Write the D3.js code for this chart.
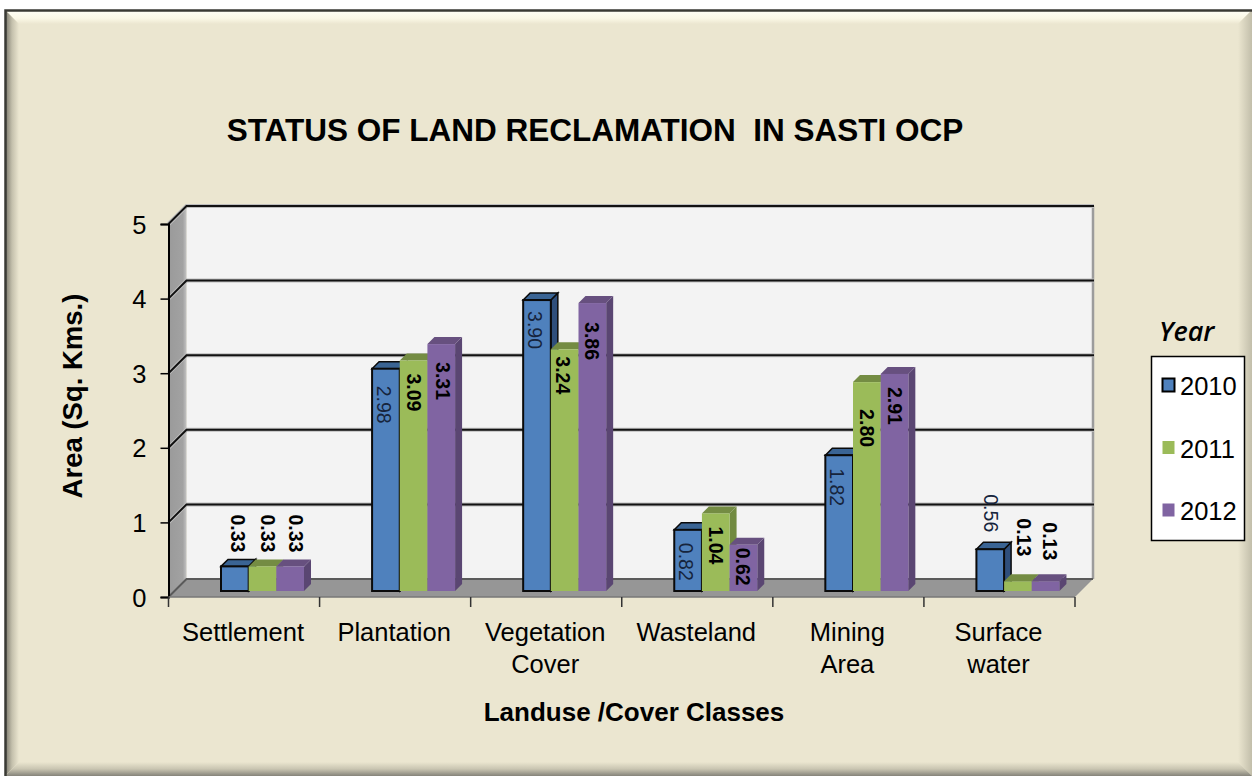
<!DOCTYPE html>
<html lang="en">
<head>
  <meta charset="UTF-8">
  <title>Status of Land Reclamation in Sasti OCP</title>
  <style>
      body { margin: 0; background: #fff; }
      svg { display: block; }
      text { font-family: "Liberation Sans", Arial, sans-serif; fill: #000; }
      .title { font-size: 31.5px; font-weight: bold; white-space: pre; }
      .axis-title { font-size: 26px; font-weight: bold; }
      .axis-title.vertical { font-size: 27.5px; }
      .tick-label { font-size: 25.5px; }
      .legend-label { font-size: 25.5px; }
      .legend-title { font-family: "Open Sans", sans-serif; font-size: 27px; font-style: italic; font-weight: 600; }
      .val { font-size: 19.5px; }
  </style>
</head>
<body>
<div id="chart"></div>
<script src="https://d3js.org/d3.v7.min.js"></script>
<script>
  const categories = ['Settlement', 'Plantation', 'Vegetation Cover', 'Wasteland', 'Mining Area', 'Surface water'];
  const years = ['2010', '2011', '2012'];
  const values2010 = [0.33, 2.98, 3.90, 0.82, 1.82, 0.56];
  const values2011 = [0.33, 3.09, 3.24, 1.04, 2.80, 0.13];
  const values2012 = [0.33, 3.31, 3.86, 0.62, 2.91, 0.13];
  const yTicks = [0, 1, 2, 3, 4, 5];

  const seriesValues = [values2010, values2011, values2012];
  const colors = [
    {front: '#4f81bd', top: '#3a6494', side: '#2f4f7c'},
    {front: '#9bbb59', top: '#748c43', side: '#718a40'},
    {front: '#8064a2', top: '#67507f', side: '#5a4672'}
  ];

  const W = 1252, H = 776;
  const left = 168.5, right = 1075, depth = 18, barDepth = 7, barLift = 6;
  // small hand nudges so the rotated labels sit where they do in the original
  const labelNudge = [
    [2, 4, -2, 0, 0, -1],
    [2, 0, -6, 0, 14, -9],
    [2, 5, 6, -10, 0, -5]
  ];
  const labelShiftX = [
    [0, -2, -2, -2, -2, -2],
    [2, 0, -2, 0, 0, 3],
    [3, 2, 0, 0, 0, 1]
  ];

  const svg = d3.select('#chart').append('svg').attr('width', W).attr('height', H);
  const defs = svg.append('defs');

  function gradient(id, x2, y2, stops) {
    const g = defs.append('linearGradient').attr('id', id)
      .attr('x1', 0).attr('y1', 0).attr('x2', x2).attr('y2', y2);
    stops.forEach(s => g.append('stop').attr('offset', s[0]).attr('stop-color', s[1]));
  }
  gradient('bevel-top', 0, 1, [[0, '#fffff6'], [0.6, '#fbf8e6'], [1, '#ebe6d0']]);
  gradient('bevel-left', 1, 0, [[0, '#77756a'], [0.5, '#c4c0ac'], [1, '#ebe6d0']]);
  gradient('bevel-right', 1, 0, [[0, '#ebe6d0'], [1, '#c2beaa']]);
  gradient('bevel-bottom', 0, 1, [[0, '#ebe6d0'], [0.5, '#c9c5b1'], [1, '#85837a']]);
  gradient('side-wall', 1, 0, [[0, '#9a9a9a'], [0.8, '#a2a2a2'], [1, '#c4c4c4']]);

  // card with bevelled edges
  const fx0 = 5, fy0 = 10, bw = 14;
  svg.append('rect').attr('x', fx0).attr('y', fy0).attr('width', W - fx0).attr('height', H - fy0).attr('fill', '#ebe6d0');
  const bevel = [
    ['bevel-top', [[fx0, fy0], [W, fy0], [W - bw, fy0 + bw], [fx0 + bw, fy0 + bw]]],
    ['bevel-left', [[fx0, fy0], [fx0 + bw, fy0 + bw], [fx0 + bw, H - bw], [fx0, H]]],
    ['bevel-right', [[W, fy0], [W, H], [W - bw, H - bw], [W - bw, fy0 + bw]]],
    ['bevel-bottom', [[fx0, H], [fx0 + bw, H - bw], [W - bw, H - bw], [W, H]]]
  ];
  svg.selectAll('.bevel').data(bevel).enter().append('polygon')
    .attr('class', 'bevel')
    .attr('points', d => d[1].join(' '))
    .attr('fill', d => `url(#${d[0]})`);
  svg.append('path').attr('d', `M${fx0 + 0.5},${H}V${fy0 + 0.5}H${W}`)
    .attr('fill', 'none').attr('stroke', '#3a3a34').attr('stroke-width', 2.5);

  const y = d3.scaleLinear().domain([0, 5]).range([597, 224]);
  const x0 = d3.scaleBand().domain(categories).range([left, right]);
  const x1 = d3.scaleBand().domain(years).range([0, 83]);
  const barStart = 52.5;

  // walls and floor
  const y0 = y(0), y5 = y(5);
  svg.append('rect').attr('x', left + depth).attr('y', y5 - depth)
    .attr('width', right - left).attr('height', y0 - y5).attr('fill', '#f3f3f3');
  svg.append('polygon').attr('fill', 'url(#side-wall)')
    .attr('points', [[left, y5], [left + depth, y5 - depth], [left + depth, y0 - depth], [left, y0]].join(' '));
  svg.append('polygon').attr('fill', '#969696')
    .attr('points', [[left, y0], [left + depth, y0 - depth], [right + depth, y0 - depth], [right, y0]].join(' '));
  svg.append('line').attr('x1', right + depth).attr('x2', right + depth)
    .attr('y1', y5 - depth).attr('y2', y0 - depth)
    .attr('stroke', '#9c9c9c').attr('stroke-width', 2.5);

  // gridlines run across the back wall and fold down the side wall
  const grid = svg.append('g').selectAll('path').data(yTicks.slice(1)).enter();
  grid.append('path')
    .attr('d', d => `M${left},${y(d)}L${left + depth},${y(d) - depth}H${right + depth + 1}`)
    .attr('fill', 'none').attr('stroke', '#bdbdbd').attr('stroke-width', 4);
  grid.append('path')
    .attr('d', d => `M${left},${y(d)}L${left + depth},${y(d) - depth}H${right + depth + 1}`)
    .attr('fill', 'none').attr('stroke', '#111').attr('stroke-width', 2);
  svg.append('path')
    .attr('d', `M${left},${y0}L${left + depth},${y0 - depth}H${right + depth}`)
    .attr('fill', 'none').attr('stroke', '#5a5a5a').attr('stroke-width', 2);

  // axes
  const yAxis = svg.append('g').attr('transform', `translate(${left},0)`)
    .call(d3.axisLeft(y).tickValues(yTicks).tickSize(8).tickPadding(14).tickFormat(d3.format('d')));
  yAxis.select('.domain').attr('stroke', '#000').attr('stroke-width', 2);
  yAxis.selectAll('.tick line').attr('stroke', '#000').attr('stroke-width', 1.5);
  yAxis.selectAll('text').attr('class', 'tick-label').attr('dy', '0.36em');
  yAxis.attr('font-size', null).attr('font-family', null);

  const xTicks = svg.append('g');
  xTicks.append('line').attr('x1', left).attr('x2', right).attr('y1', y0).attr('y2', y0)
    .attr('stroke', '#777').attr('stroke-width', 1.5);
  xTicks.selectAll('.xt').data(categories.concat([null])).enter().append('line')
    .attr('class', 'xt')
    .attr('x1', d => d ? x0(d) : right).attr('x2', d => d ? x0(d) : right)
    .attr('y1', y0).attr('y2', y0 + 10)
    .attr('stroke', '#333').attr('stroke-width', 1.5);

  const catLabels = svg.append('g').selectAll('text').data(categories).enter().append('text')
    .attr('class', 'tick-label')
    .attr('text-anchor', 'middle')
    .attr('x', d => x0(d) + x0.bandwidth() / 2 - 1)
    .attr('y', 641);
  catLabels.selectAll('tspan').data(d => d.split(' ')).enter().append('tspan')
    .attr('x', function () { return d3.select(this.parentNode).attr('x'); })
    .attr('dy', (d, i) => i ? 32 : 0)
    .text(d => d);

  // bars, painted left to right so each one hides the side of the last
  const barY = v => y(v) - barLift;
  const barBase = barY(0);
  categories.forEach((cat, c) => {
    years.forEach((yr, s) => {
      const v = seriesValues[s][c];
      const bx = x0(cat) + barStart + x1(yr), bw1 = x1.bandwidth(), ty = barY(v);
      const col = colors[s];
      const g = svg.append('g');
      const stroke = s === 0 ? '#0a0a0a' : 'none';
      g.append('polygon').attr('fill', col.side).attr('stroke', stroke).attr('stroke-width', 1.5)
        .attr('points', [[bx + bw1, ty], [bx + bw1 + barDepth, ty - barDepth], [bx + bw1 + barDepth, barBase - barDepth], [bx + bw1, barBase]].join(' '));
      g.append('polygon').attr('fill', col.top).attr('stroke', stroke).attr('stroke-width', 1.5)
        .attr('points', [[bx, ty], [bx + barDepth, ty - barDepth], [bx + bw1 + barDepth, ty - barDepth], [bx + bw1, ty]].join(' '));
      g.append('rect').attr('x', bx).attr('y', ty).attr('width', bw1).attr('height', barBase - ty)
        .attr('fill', col.front).attr('stroke', stroke).attr('stroke-width', 2);
    });
  });

  // value labels are drawn after all bars, rotated to read downwards
  categories.forEach((cat, c) => {
    years.forEach((yr, s) => {
      const v = seriesValues[s][c];
      const outside = v < 0.6;
      const lx = x0(cat) + barStart + x1(yr) + x1.bandwidth() / 2 + (outside ? 3 : 0) + labelShiftX[s][c];
      const top = outside ? barY(v) - 16 : barY(v) + 13;
      const thin = s === 0 && c > 0;
      svg.append('text')
        .attr('class', 'val')
        .attr('transform', `translate(${lx - 7},${top + labelNudge[s][c]}) rotate(90)`)
        .attr('text-anchor', outside ? 'end' : 'start')
        .attr('font-weight', thin ? 'normal' : 'bold')
        .style('fill', thin ? '#16243c' : '#000')
        .text(v.toFixed(2));
    });
  });

  // titles
  svg.append('text').attr('class', 'title').attr('x', 595).attr('y', 141)
    .attr('text-anchor', 'middle').text('STATUS OF LAND RECLAMATION  IN SASTI OCP');
  svg.append('text').attr('class', 'axis-title vertical').attr('text-anchor', 'middle')
    .attr('transform', 'translate(82,396) rotate(-90)').text('Area (Sq. Kms.)');
  svg.append('text').attr('class', 'axis-title').attr('x', 634).attr('y', 721)
    .attr('text-anchor', 'middle').text('Landuse /Cover Classes');

  // legend
  svg.append('text').attr('class', 'legend-title').attr('x', 1159).attr('y', 341).text('Year');
  svg.append('rect').attr('x', 1151.5).attr('y', 356.5).attr('width', 93).attr('height', 184)
    .attr('fill', '#fff').attr('stroke', '#000').attr('stroke-width', 1.5);
  const legendY = d3.scalePoint().domain(years).range([385, 510]);
  const items = svg.selectAll('.legend').data(years).enter().append('g').attr('class', 'legend')
    .attr('transform', d => `translate(0,${legendY(d)})`);
  items.append('rect').attr('x', 1162.5).attr('y', -6.5).attr('width', 12).attr('height', 13)
    .attr('fill', (d, i) => colors[i].front)
    .attr('stroke', (d, i) => i === 0 ? '#000' : 'none').attr('stroke-width', 2);
  items.append('text').attr('class', 'legend-label').attr('x', 1180).attr('y', 10).text(d => d);
</script>
</body>
</html>
